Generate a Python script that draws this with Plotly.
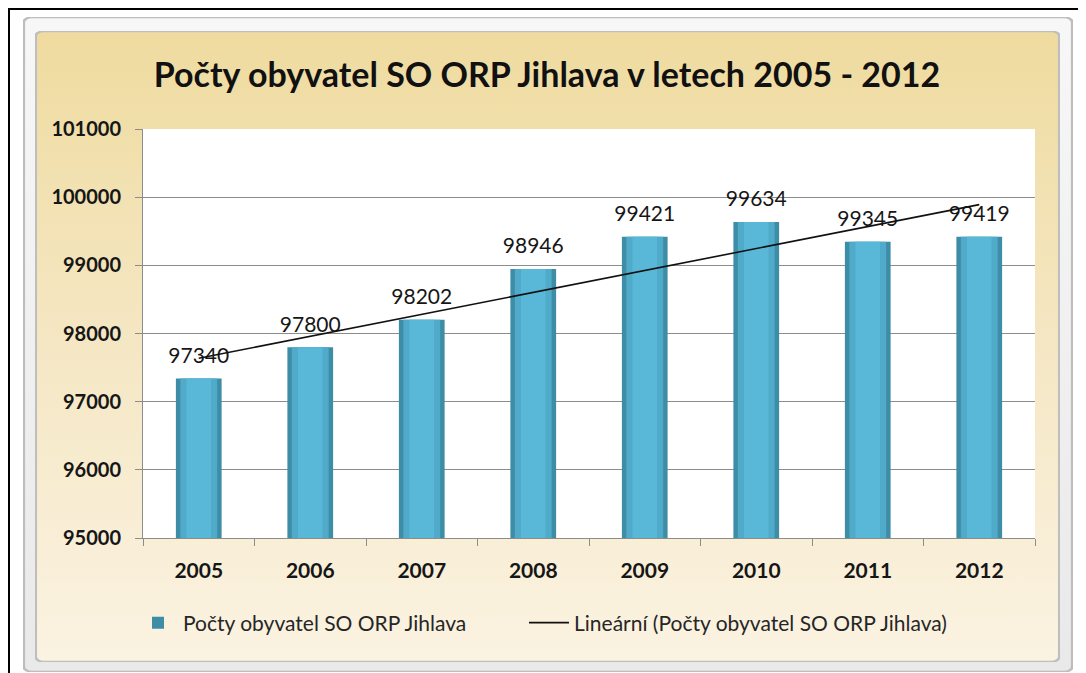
import base64
import numpy as np
import plotly.graph_objects as go

# ---------------- data ----------------
years = ["2005", "2006", "2007", "2008", "2009", "2010", "2011", "2012"]
population = [97340, 97800, 98202, 98946, 99421, 99634, 99345, 99419]
y_ticks = [95000, 96000, 97000, 98000, 99000, 100000, 101000]
title_text = "Počty obyvatel SO ORP Jihlava v letech 2005 - 2012"
bar_name = "Počty obyvatel SO ORP Jihlava"
trend_name = "Lineární (Počty obyvatel SO ORP Jihlava)"

# linear trendline (as Excel computes it)
idx = np.arange(1, len(years) + 1)
slope, intercept = np.polyfit(idx, population, 1)
trend = slope * idx + intercept

# ---------------- layout geometry (page pixels) ----------------
OFF = 8                      # default body margin of the page
W, H = 1078, 665             # figure size
PL, PR, PT, PB = 143, 1035, 129, 538   # plot area in page pixels


def px(x):
    return (x - PL) / (PR - PL)


def py(y):
    return (PB - y) / (PB - PT)


FONT = "Lato, 'Open Sans', sans-serif"
TXT = "#161616"
GRID = "#8c8c8c"


def svg_uri(stops, border=None):
    st = "".join('<stop offset="%s" stop-color="%s"/>' % s for s in stops)
    b = ""
    if border:
        b = ('<rect x="0.5" y="0.5" width="999" height="999" fill="none" '
             'stroke="%s" stroke-width="3" rx="8" ry="8" vector-effect="non-scaling-stroke"/>' % border)
    svg = ('<svg xmlns="http://www.w3.org/2000/svg" width="1000" height="1000" '
           'viewBox="0 0 1000 1000" preserveAspectRatio="none">'
           '<defs><linearGradient id="g" x1="0" y1="0" x2="0" y2="1">' + st +
           '</linearGradient></defs>'
           '<rect x="0" y="0" width="1000" height="1000" rx="8" ry="8" fill="url(#g)"/>' + b + '</svg>')
    return "data:image/svg+xml;base64," + base64.b64encode(svg.encode()).decode()


frame_uri = svg_uri([("0", "#F7F7F7"), ("1", "#E9E9E9")], border="#BDBDBD")
gold_uri = svg_uri([("0", "#EFDB9F"), ("0.5", "#F5E7C4"), ("1", "#FBF3E2")], border="#BEBEBE")

fig = go.Figure()

fig.add_trace(go.Bar(
    x=years, y=population, width=0.41, name=bar_name, legend="legend",
    marker=dict(color="#3E8DA7", line=dict(width=0)),
    hovertemplate="%{x}: %{y}<extra></extra>",
))
fig.add_trace(go.Bar(
    x=years, y=population, width=0.33, showlegend=False,
    marker=dict(color="#50ABCA", line=dict(width=0)), hoverinfo="skip",
))
fig.add_trace(go.Bar(
    x=years, y=population, width=0.22, showlegend=False,
    marker=dict(color="#59B7D8", line=dict(width=0)), hoverinfo="skip",
))
# data labels above the bars
fig.add_trace(go.Scatter(
    x=years, y=population, mode="markers+text", text=[str(v) for v in population],
    textposition="top center", textfont=dict(family=FONT, size=21, color=TXT),
    marker=dict(size=15, opacity=0), showlegend=False, hoverinfo="skip", cliponaxis=False,
))
fig.add_trace(go.Scatter(
    x=years, y=trend, mode="lines", name=trend_name, legend="legend2",
    line=dict(color="#111111", width=1.6),
))

shapes = [
    dict(type="line", xref="paper", yref="paper", x0=px(8), x1=px(1086), y0=py(9), y1=py(9),
         line=dict(color="#000000", width=2), layer="below"),
    dict(type="line", xref="paper", yref="paper", x0=px(9), x1=px(9), y0=py(9), y1=py(673),
         line=dict(color="#000000", width=2), layer="below"),
    dict(type="rect", xref="paper", yref="paper", x0=0, x1=1, y0=0, y1=1,
         fillcolor="#FFFFFF", line=dict(width=0), layer="below"),
]

images = [
    dict(source=frame_uri, xref="paper", yref="paper", x=px(23), y=py(17),
         sizex=px(1073) - px(23), sizey=py(17) - py(672), sizing="stretch",
         xanchor="left", yanchor="top", layer="below"),
    dict(source=gold_uri, xref="paper", yref="paper", x=px(35), y=py(31),
         sizex=px(1060) - px(35), sizey=py(31) - py(662), sizing="stretch",
         xanchor="left", yanchor="top", layer="below"),
]

legend_common = dict(orientation="h", yanchor="middle", xanchor="left",
                     bgcolor="rgba(0,0,0,0)", font=dict(family=FONT, size=21, color="#262626"),
                     itemwidth=40)

fig.update_layout(
    width=W, height=H,
    margin=dict(l=PL - OFF, r=(OFF + W) - PR, t=PT - OFF, b=(OFF + H) - PB, pad=0),
    paper_bgcolor="#FFFFFF", plot_bgcolor="#FFFFFF",
    barmode="overlay",
    title=dict(text=title_text, x=(547 - OFF) / W, y=1 - (75 - OFF) / H,
               xref="container", yref="container", xanchor="center", yanchor="middle",
               font=dict(family=FONT, size=34, color="#111111", weight=700)),
    font=dict(family=FONT, color=TXT),
    showlegend=True,
    legend=dict(x=px(133), y=py(623), **legend_common),
    legend2=dict(x=px(524), y=py(623), **legend_common),
    xaxis=dict(type="category", showline=True, linecolor=GRID, linewidth=1, ticks="outside",
               ticklen=7, tickcolor=GRID, tickson="boundaries", showgrid=False,
               tickfont=dict(family=FONT, size=21, color=TXT, weight=700), ticklabelstandoff=14),
    yaxis=dict(range=[95000, 101000], tickvals=y_ticks, tickformat="d", showline=True,
               linecolor=GRID, linewidth=1, ticks="outside", ticklen=7, tickcolor=GRID,
               showgrid=True, gridcolor=GRID, gridwidth=1, zeroline=False,
               tickfont=dict(family=FONT, size=20, color=TXT, weight=700), ticklabelstandoff=10),
    shapes=shapes,
    images=images,
)

fig.write_html("out.html")
